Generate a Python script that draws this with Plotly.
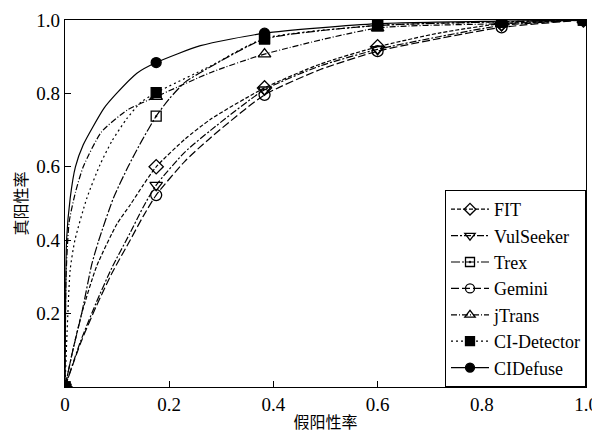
import plotly.graph_objects as go

# False positive rate positions of the plotted markers
MARK_X = [0, 0.175, 0.383, 0.6, 0.838, 0.995]

# Marker values (TPR) per method
FIT_M = [0, 0.600, 0.815, 0.927, 0.990, 1.0]
VUL_M = [0, 0.550, 0.810, 0.920, 0.985, 1.0]
TREX_M = [0, 0.738, 0.948, 0.985, 0.995, 1.0]
GEM_M = [0, 0.523, 0.796, 0.915, 0.980, 1.0]
JTR_M = [0, 0.791, 0.907, 0.978, 0.990, 1.0]
CID_M = [0, 0.802, 0.950, 0.985, 0.995, 1.0]
CIDF_M = [0, 0.884, 0.964, 0.990, 0.997, 1.0]

# Curve points
FIT_X = [0, 0.015, 0.032, 0.061, 0.1, 0.125, 0.15, 0.175, 0.23, 0.28, 0.383, 0.49, 0.6, 0.72, 0.838, 0.995]
FIT_Y = [0, 0.1, 0.2, 0.33, 0.445, 0.496, 0.55, 0.6, 0.675, 0.73, 0.815, 0.88, 0.927, 0.965, 0.99, 1.0]
VUL_X = [0, 0.03, 0.06, 0.09, 0.125, 0.15, 0.175, 0.23, 0.28, 0.383, 0.49, 0.6, 0.72, 0.838, 0.995]
VUL_Y = [0, 0.125, 0.23, 0.325, 0.42, 0.49, 0.55, 0.64, 0.70, 0.81, 0.875, 0.92, 0.955, 0.985, 1.0]
GEM_X = [0, 0.03, 0.06, 0.09, 0.125, 0.15, 0.175, 0.23, 0.28, 0.383, 0.49, 0.6, 0.72, 0.838, 0.995]
GEM_Y = [0, 0.12, 0.22, 0.31, 0.40, 0.465, 0.523, 0.615, 0.68, 0.796, 0.865, 0.915, 0.95, 0.98, 1.0]
TREX_X = [0, 0.015, 0.032, 0.051, 0.064, 0.093, 0.121, 0.147, 0.175, 0.2, 0.23, 0.27, 0.383, 0.6, 0.838, 0.995]
TREX_Y = [0, 0.1, 0.2, 0.332, 0.396, 0.515, 0.6, 0.67, 0.738, 0.785, 0.83, 0.865, 0.948, 0.985, 0.995, 1.0]
JTR_X = [0, 0.002, 0.008, 0.02, 0.035, 0.07, 0.12, 0.175, 0.28, 0.383, 0.6, 0.838, 0.995]
JTR_Y = [0, 0.3, 0.45, 0.53, 0.6, 0.695, 0.755, 0.791, 0.857, 0.907, 0.978, 0.99, 1.0]
CID_X = [0, 0.004, 0.01, 0.019, 0.042, 0.067, 0.09, 0.118, 0.145, 0.175, 0.28, 0.383, 0.6, 0.838, 0.995]
CID_Y = [0, 0.15, 0.32, 0.40, 0.515, 0.605, 0.67, 0.73, 0.775, 0.802, 0.875, 0.95, 0.985, 0.995, 1.0]
CIDF_X = [0, 0.001, 0.003, 0.01, 0.02, 0.035, 0.054, 0.075, 0.099, 0.138, 0.175, 0.26, 0.383, 0.6, 0.838, 0.995]
CIDF_Y = [0, 0.2, 0.4, 0.515, 0.6, 0.66, 0.71, 0.76, 0.80, 0.855, 0.884, 0.93, 0.964, 0.99, 0.997, 1.0]

NAMES = ["FIT", "VulSeeker", "Trex", "Gemini", "jTrans", "CI-Detector", "CIDefuse"]
X_TICKS = [0, 0.2, 0.4, 0.6, 0.8, 1.0]
X_TICK_TEXT = ["0", "0.2", "0.4", "0.6", "0.8", "1.0"]
Y_TICKS = [0.2, 0.4, 0.6, 0.8, 1.0]
Y_TICK_TEXT = ["0.2", "0.4", "0.6", "0.8", "1.0"]

series = [
    (FIT_X, FIT_Y, FIT_M, "diamond-open", "4px,2px", 11),
    (VUL_X, VUL_Y, VUL_M, "triangle-down-open", "7px,2px,2px,2px", 11),
    (TREX_X, TREX_Y, TREX_M, "square-open-dot", "9px,2px,2px,2px", 10),
    (GEM_X, GEM_Y, GEM_M, "circle-open", "8px,3px", 11),
    (JTR_X, JTR_Y, JTR_M, "triangle-up-open", "6px,2px,1px,2px", 11),
    (CID_X, CID_Y, CID_M, "square", "2px,3px", 10),
    (CIDF_X, CIDF_Y, CIDF_M, "circle", "solid", 10),
]

FONT = "Liberation Serif"
CJK = "Noto Sans CJK SC"
fig = go.Figure()
for name, (cx, cy, my, sym, dash, msz) in zip(NAMES, series):
    fig.add_trace(go.Scatter(x=cx, y=cy, mode="lines",
                             line=dict(color="black", width=1.2, dash=dash, shape="spline", smoothing=0.6),
                             showlegend=False, hoverinfo="skip"))
    fig.add_trace(go.Scatter(x=MARK_X, y=my, mode="markers",
                             marker=dict(symbol=sym, size=msz, color="black", line=dict(color="black", width=1.3)),
                             showlegend=False))
    fig.add_trace(go.Scatter(x=[None], y=[None], mode="lines+markers", name=name,
                             line=dict(color="black", width=1.2, dash=dash),
                             marker=dict(symbol=sym, size=9, color="black", line=dict(color="black", width=1.3))))

fig.update_layout(
    width=592, height=428,
    margin=dict(l=57, r=14, t=12, b=49),
    plot_bgcolor="white", paper_bgcolor="white",
    font=dict(family=FONT, size=18, color="black"),
    showlegend=True,
    legend=dict(x=1, xanchor="right", y=0, yanchor="bottom", bgcolor="white",
                bordercolor="black", borderwidth=1, font=dict(family=FONT, size=18),
                tracegroupgap=0, itemwidth=38),
)
fig.update_xaxes(range=[0, 1], tickvals=X_TICKS, ticktext=X_TICK_TEXT, ticks="inside", ticklen=6,
                 tickcolor="black", showline=True, linecolor="black", linewidth=1.2, mirror=True,
                 showgrid=False, zeroline=False, automargin=False,
                 tickfont=dict(family=FONT, size=19),
                 title=dict(text="假阳性率", font=dict(family=CJK, size=16), standoff=2))
fig.update_yaxes(range=[0, 1], tickvals=Y_TICKS, ticktext=Y_TICK_TEXT, ticks="inside", ticklen=6,
                 tickcolor="black", showline=True, linecolor="black", linewidth=1.2, mirror=True,
                 showgrid=False, zeroline=False, automargin=False,
                 tickfont=dict(family=FONT, size=19),
                 title=dict(text="真阳性率", font=dict(family=CJK, size=16), standoff=6))
fig.write_html("out.html")
